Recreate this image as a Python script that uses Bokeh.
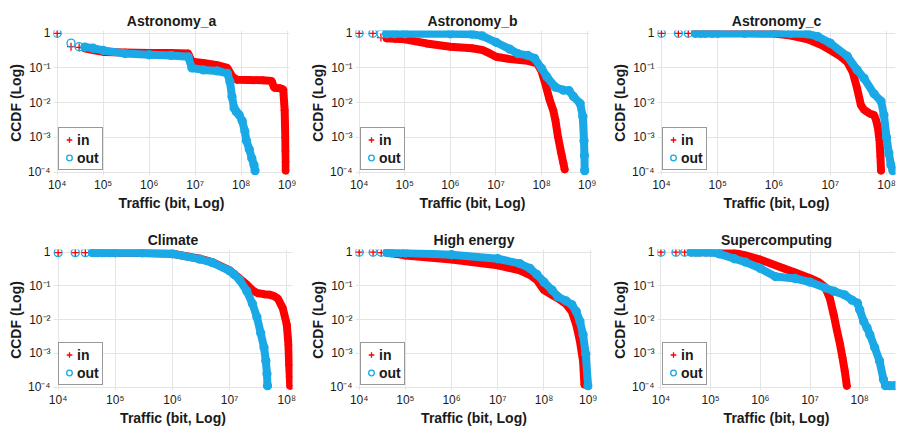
from bokeh.plotting import figure
from bokeh.layouts import gridplot
from bokeh.models import Range1d, FixedTicker, Legend, LegendItem
from bokeh.embed import file_html
from bokeh.resources import INLINE

FONT = "Liberation Sans"
RED = "#ff0000"
BLUE = "#1aa9e6"
GRID = "#e4e4e4"
TXT = "#1a1a1a"

TITLES = ["Astronomy_a", "Astronomy_b", "Astronomy_c", "Climate", "High energy", "Supercomputing"]
X_LABEL = "Traffic (bit, Log)"
Y_LABEL = "CCDF (Log)"
SERIES = ["in", "out"]

X_TICKS_9 = [1e4, 1e5, 1e6, 1e7, 1e8, 1e9]
X_TICK_LABELS_9 = ["10⁴", "10⁵", "10⁶", "10⁷", "10⁸", "10⁹"]
X_TICKS_8 = [1e4, 1e5, 1e6, 1e7, 1e8]
X_TICK_LABELS_8 = ["10⁴", "10⁵", "10⁶", "10⁷", "10⁸"]
Y_TICKS = [1e-4, 1e-3, 1e-2, 1e-1, 1.0]
Y_TICK_LABELS = ["10⁻⁴", "10⁻³", "10⁻²", "10⁻¹", "1"]

# ---- Astronomy_a
A_IN_X = [1e4, 2e4, 3e4, 4e4, 6e4, 1e5, 3e5, 1e6, 3e6, 7e6, 8.5e6, 1.5e7, 3e7, 5e7, 6.5e7, 8e7,
          1.5e8, 3e8, 4.6e8, 5.2e8, 7e8, 8.2e8, 8.8e8, 9.1e8, 9.2e8, 9.3e8, 9.3e8]
A_IN_Y = [1.0, 0.41, 0.39, 0.37, 0.33, 0.29, 0.28, 0.27, 0.27, 0.26, 0.15, 0.14, 0.12, 0.10, 0.055, 0.046,
          0.045, 0.044, 0.042, 0.027, 0.026, 0.024, 0.006, 1e-3, 4e-4, 2e-4, 1.1e-4]
A_OUT_X = [1e4, 2e4, 3e4, 4e4, 6e4, 1e5, 3e5, 1e6, 3e6, 7e6, 8.5e6, 1.5e7, 3e7, 5e7, 5.7e7, 6.3e7,
           7e7, 7.8e7, 9e7, 1.05e8, 1.2e8, 1.3e8, 1.5e8, 1.7e8, 1.9e8, 2e8]
A_OUT_Y = [1.0, 0.52, 0.41, 0.40, 0.37, 0.32, 0.26, 0.24, 0.23, 0.21, 0.10, 0.088, 0.082, 0.07, 0.04, 0.015,
           0.007, 0.0055, 0.0045, 0.003, 0.0015, 8e-4, 4.5e-4, 2.5e-4, 1.6e-4, 1.1e-4]

# ---- Astronomy_b
B_IN_X = [1e4, 2e4, 3e4, 4e4, 6e4, 1e5, 3e5, 1e6, 3e6, 5e6, 7e6, 1e7, 2e7, 5e7, 8e7, 1e8, 1.2e8,
          1.5e8, 1.8e8, 2e8, 2.3e8, 2.7e8, 3e8, 3.2e8]
B_IN_Y = [1.0, 1.0, 0.75, 0.72, 0.70, 0.67, 0.51, 0.41, 0.37, 0.33, 0.27, 0.21, 0.18, 0.16, 0.136, 0.08, 0.036,
          0.012, 0.006, 0.0032, 0.001, 3.4e-4, 1.8e-4, 1.2e-4]
B_OUT_X = [1e4, 2e4, 3e4, 4e4, 6e4, 1e5, 1e6, 3e6, 5e6, 1e7, 2e7, 3e7, 5e7, 7e7, 1e8, 1.3e8, 2e8,
           3e8, 4e8, 5e8, 7e8, 8e8, 8.5e8, 8.7e8, 8.8e8]
B_OUT_Y = [1.0, 1.0, 0.97, 0.97, 0.97, 0.97, 0.97, 0.94, 0.84, 0.55, 0.35, 0.26, 0.23, 0.19, 0.097, 0.056, 0.028,
           0.023, 0.022, 0.015, 0.0095, 0.004, 8e-4, 3e-4, 1.1e-4]

# ---- Astronomy_c
C_IN_X = [1e4, 2e4, 3e4, 4e4, 5e4, 6e4, 8e4, 1e5, 3e5, 1e6, 2e6, 4e6, 7e6, 1e7, 1.5e7, 2e7, 2.5e7,
          3e7, 3.5e7, 4e7, 5e7, 6e7, 6.5e7, 7e7, 7.5e7, 7.8e7, 8e7]
C_IN_Y = [1.0, 1.0, 1.0, 1.0, 1.0, 1.0, 1.0, 1.0, 1.0, 0.98, 0.86, 0.67, 0.46, 0.33, 0.22, 0.15, 0.078,
          0.026, 0.0086, 0.0062, 0.0049, 0.0044, 0.0032, 0.002, 8.5e-4, 2.8e-4, 1.1e-4]
C_OUT_X = [1e4, 2e4, 3e4, 4e4, 5e4, 6e4, 8e4, 1e5, 3e5, 1e6, 2e6, 4e6, 6e6, 1e7, 2e7, 3e7, 4e7,
           6e7, 8e7, 9e7, 1e8, 1.1e8, 1.2e8, 1.3e8]
C_OUT_Y = [1.0, 1.0, 1.0, 1.0, 1.0, 1.0, 1.0, 1.0, 1.0, 1.0, 0.99, 0.96, 0.8, 0.52, 0.22, 0.088, 0.05,
           0.018, 0.011, 0.0044, 0.001, 3.5e-4, 1.6e-4, 1.1e-4]

# ---- Climate
D_IN_X = [1e4, 2e4, 3e4, 4e4, 5e4, 6e4, 8e4, 1e5, 3e5, 1e6, 3e6, 5e6, 1e7, 1.5e7, 2e7, 2.5e7, 3e7,
          4e7, 5e7, 6e7, 7e7, 8.5e7, 1e8, 1.07e8, 1.1e8, 1.13e8, 1.15e8]
D_IN_Y = [0.97, 0.97, 0.97, 0.97, 0.97, 0.97, 0.97, 0.96, 0.95, 0.9, 0.64, 0.51, 0.29, 0.166, 0.11, 0.075, 0.062,
          0.057, 0.055, 0.05, 0.042, 0.022, 0.0072, 0.0018, 4.6e-4, 2e-4, 1.1e-4]
D_OUT_X = [1e4, 2e4, 3e4, 4e4, 5e4, 6e4, 8e4, 1e5, 3e5, 1e6, 3e6, 5e6, 1e7, 1.2e7, 1.5e7, 2e7, 2.5e7,
           3e7, 3.5e7, 4e7, 4.3e7, 4.5e7, 4.6e7]
D_OUT_Y = [0.97, 0.97, 0.97, 0.97, 0.97, 0.97, 0.97, 0.96, 0.95, 0.9, 0.62, 0.49, 0.28, 0.22, 0.15, 0.07, 0.03,
           0.012, 0.004, 0.0015, 6e-4, 2.5e-4, 1.1e-4]

# ---- High energy
E_IN_X = [1e4, 2e4, 3e4, 4e4, 5e4, 6e4, 8e4, 1e5, 1e6, 1e7, 3e7, 5e7, 7e7, 1e8, 1.5e8, 2e8, 3e8,
          4e8, 5e8, 6e8, 7e8, 7.5e8]
E_IN_Y = [1.0, 1.0, 0.97, 0.95, 0.93, 0.9, 0.85, 0.8, 0.61, 0.41, 0.29, 0.21, 0.15, 0.075, 0.054, 0.043, 0.029,
          0.0175, 0.0071, 0.0023, 6e-4, 1.2e-4]
E_OUT_X = [1e4, 2e4, 3e4, 4e4, 5e4, 6e4, 8e4, 1e5, 1e6, 1e7, 3e7, 5e7, 7e7, 1e8, 1.5e8, 2e8, 3e8,
           4e8, 5e8, 6e8, 7e8, 8e8, 9e8]
E_OUT_Y = [1.0, 1.0, 1.0, 0.98, 0.97, 0.97, 0.96, 0.95, 0.84, 0.64, 0.46, 0.33, 0.22, 0.13, 0.075, 0.048, 0.036,
           0.028, 0.0175, 0.0089, 0.0036, 9.6e-4, 1.1e-4]

# ---- Supercomputing
F_IN_X = [1e4, 2e4, 3e4, 4e4, 5e4, 6e4, 8e4, 1e5, 1.5e5, 3e5, 5e5, 1e6, 3e6, 5e6, 1e7, 1.5e7, 2e7,
          2.5e7, 3e7, 3.5e7, 4e7, 4.5e7, 5e7, 5.5e7]
F_IN_Y = [1.0, 1.0, 1.0, 1.0, 1.0, 1.0, 1.0, 1.0, 0.98, 0.95, 0.8, 0.6, 0.33, 0.25, 0.17, 0.13, 0.094,
          0.043, 0.014, 0.0046, 0.0019, 7.5e-4, 3e-4, 1.1e-4]
F_OUT_X = [1e4, 2e4, 3e4, 4e4, 5e4, 6e4, 8e4, 1e5, 1.5e5, 3e5, 5e5, 1e6, 2e6, 5e6, 1e7, 2e7, 3e7,
           5e7, 7e7, 9e7, 1e8, 1.2e8, 1.4e8, 1.6e8, 2e8, 2.5e8, 3e8, 3.3e8, 4e8, 5e8]
F_OUT_Y = [1.0, 1.0, 1.0, 1.0, 1.0, 1.0, 1.0, 1.0, 0.89, 0.64, 0.51, 0.33, 0.19, 0.166, 0.13, 0.088, 0.07,
           0.054, 0.038, 0.031, 0.0196, 0.0089, 0.0058, 0.0036, 0.0015, 6e-4, 1.7e-4, 1.1e-4, 1.1e-4, 1.1e-4]

DATA = [
    (A_IN_X, A_IN_Y, A_OUT_X, A_OUT_Y),
    (B_IN_X, B_IN_Y, B_OUT_X, B_OUT_Y),
    (C_IN_X, C_IN_Y, C_OUT_X, C_OUT_Y),
    (D_IN_X, D_IN_Y, D_OUT_X, D_OUT_Y),
    (E_IN_X, E_IN_Y, E_OUT_X, E_OUT_Y),
    (F_IN_X, F_IN_Y, F_OUT_X, F_OUT_Y),
]

# layout (not data): x-range exponents, frame width, left/right borders, 10^9 axis?
LAYOUT = [
    (3.92, 9.05, 236, 53, 8, True),
    (3.92, 9.05, 234, 58, 8, True),
    (3.93, 8.16, 238, 60, 1, False),
    (3.92, 8.10, 239, 52, 6, False),
    (3.92, 9.05, 237, 57, 6, True),
    (3.93, 8.72, 238, 60, 1, False),
]
ROWS = [(30, 145, 37), (36, 141, 38)]
LINE_FROM = 4e4


def make_panel(i):
    x0, x1, fw, bl, br, nine = LAYOUT[i]
    top, fh, bottom = ROWS[i // 3]
    p = figure(x_axis_type="log", y_axis_type="log",
               x_range=Range1d(10 ** x0, 10 ** x1), y_range=Range1d(10 ** -4.1, 10 ** 0.08),
               frame_width=fw, frame_height=fh,
               min_border_left=bl, min_border_right=br, min_border_top=top, min_border_bottom=bottom,
               output_backend="svg", toolbar_location=None, title=TITLES[i])
    p.outline_line_color = None
    p.background_fill_color = "white"
    p.border_fill_color = "white"
    p.title.align = "center"
    p.title.text_font = FONT
    p.title.text_font_size = "14px"
    p.title.text_font_style = "bold"
    p.title.text_color = TXT
    p.title.standoff = 3

    xt = X_TICKS_9 if nine else X_TICKS_8
    xl = X_TICK_LABELS_9 if nine else X_TICK_LABELS_8
    xtick = FixedTicker(ticks=xt)
    ytick = FixedTicker(ticks=Y_TICKS)
    p.xaxis.ticker = xtick
    p.yaxis.ticker = ytick
    p.xgrid.ticker = xtick
    p.ygrid.ticker = ytick
    p.xaxis.major_label_overrides = dict(zip(xt, xl))
    p.yaxis.major_label_overrides = dict(zip(Y_TICKS, Y_TICK_LABELS))
    for g in (p.xgrid, p.ygrid):
        g.grid_line_color = GRID
        g.grid_line_width = 1
    for ax in (p.xaxis, p.yaxis):
        ax.axis_line_color = None
        ax.major_tick_line_color = None
        ax.minor_tick_line_color = None
        ax.major_tick_out = 0
        ax.major_tick_in = 0
        ax.minor_tick_out = 0
        ax.minor_tick_in = 0
        ax.major_label_text_font = FONT
        ax.major_label_text_font_size = "12px"
        ax.major_label_text_color = TXT
        ax.axis_label_text_font = FONT
        ax.axis_label_text_font_size = "14px"
        ax.axis_label_text_font_style = "bold"
        ax.axis_label_text_color = TXT
    p.xaxis.axis_label = X_LABEL
    p.yaxis.axis_label = Y_LABEL
    p.xaxis.major_label_standoff = 2
    p.xaxis.axis_label_standoff = 0
    p.yaxis.major_label_standoff = 3
    p.yaxis.axis_label_standoff = 1

    in_x, in_y, out_x, out_y = DATA[i]
    rin = [(x, y) for x, y in zip(in_x, in_y) if x >= LINE_FROM]
    rout = [(x, y) for x, y in zip(out_x, out_y) if x >= LINE_FROM]
    p.line([a for a, b in rin], [b for a, b in rin], line_color=RED, line_width=8,
           line_join="round", line_cap="round")
    s_in = p.scatter(in_x, in_y, marker="cross", size=8, line_color=RED, line_width=1.3)
    p.line([a for a, b in rout], [b for a, b in rout], line_color=BLUE, line_width=8,
           line_join="round", line_cap="round")
    s_out = p.scatter(out_x, out_y, marker="circle", size=8, line_color=BLUE, fill_color=None,
                      line_width=1.3)

    legend = Legend(items=[LegendItem(label=SERIES[0], renderers=[s_in]),
                           LegendItem(label=SERIES[1], renderers=[s_out])],
                    location="bottom_left")
    legend.label_text_font = FONT
    legend.label_text_font_size = "14px"
    legend.label_text_font_style = "bold"
    legend.label_text_color = TXT
    legend.label_height = 17
    legend.glyph_height = 17
    legend.glyph_width = 14
    legend.label_standoff = 1
    legend.spacing = 1
    legend.padding = 3
    legend.margin = 5
    legend.border_line_color = "#333333"
    legend.border_line_width = 1
    legend.background_fill_color = "white"
    legend.background_fill_alpha = 1
    p.add_layout(legend)
    return p


panels = [make_panel(i) for i in range(6)]
grid = gridplot([panels[:3], panels[3:]], toolbar_location=None)

open("out.html", "w").write(file_html(grid, INLINE))
